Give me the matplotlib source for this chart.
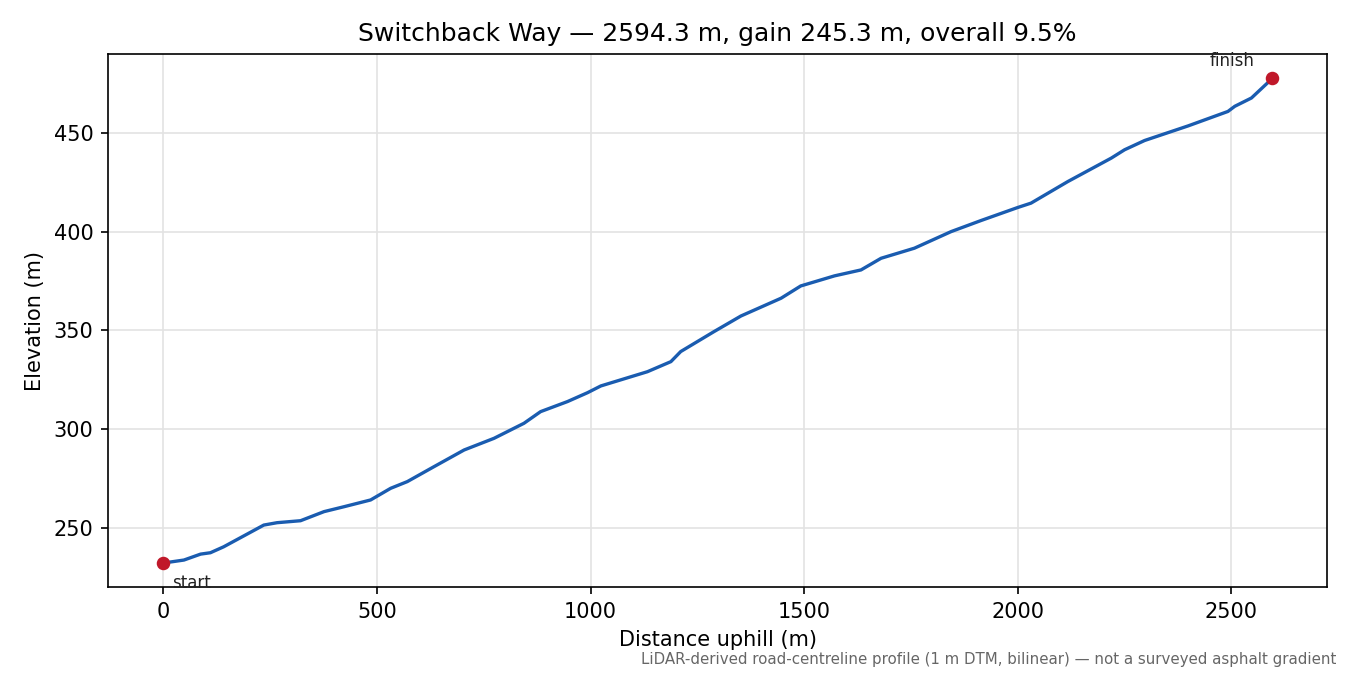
import matplotlib
matplotlib.use("Agg")
import matplotlib.pyplot as plt

# distance along the road (m) and elevation (m)
distance = [0, 48, 87, 110, 141, 188, 235, 266, 321, 376, 423, 485, 532, 571,
            633, 704, 774, 844, 883, 946, 993, 1024, 1133, 1188, 1211, 1289,
            1352, 1446, 1492, 1571, 1633, 1680, 1758, 1844, 1914, 2000, 2031,
            2117, 2219, 2250, 2297, 2399, 2492, 2508, 2547, 2586, 2594.3]
elevation = [232.3, 233.8, 236.8, 237.5, 240.5, 246.0, 251.5, 252.7, 253.7,
             258.3, 260.8, 264.2, 270.1, 273.5, 281.0, 289.5, 295.4, 303.0,
             308.9, 314.0, 318.5, 321.9, 329.1, 334.2, 339.3, 349.4, 357.3,
             366.3, 372.5, 377.6, 380.6, 386.5, 391.6, 400.0, 405.6, 412.2,
             414.4, 425.3, 437.2, 441.4, 446.1, 453.5, 460.8, 463.4, 467.6,
             475.5, 477.6]

road_name = "Switchback Way"
length = distance[-1]
gain = elevation[-1] - elevation[0]
overall = 100 * gain / length

fig, ax = plt.subplots(figsize=(9, 4.5), dpi=150)

ax.plot(distance, elevation, color="#1a5cb0", linewidth=1.6,
        solid_joinstyle="round")
ax.scatter([distance[0], distance[-1]], [elevation[0], elevation[-1]],
           color="#c0182a", s=30, zorder=3)

ax.annotate("start", (distance[0], elevation[0]), xytext=(4, -12),
            textcoords="offset points", fontsize=8, color="#222222")
ax.annotate("finish", (distance[-1], elevation[-1]), xytext=(-8, 6),
            textcoords="offset points", fontsize=8, color="#222222", ha="right")

ax.grid(True, color="#e3e3e3", linewidth=0.8)
ax.set_axisbelow(True)
ax.set_xlabel("Distance uphill (m)")
ax.set_ylabel("Elevation (m)")
ax.set_title(f"{road_name} — {length:.1f} m, gain {gain:.1f} m, overall {overall:.1f}%",
             fontsize=12)

fig.text(0.99, 0.012,
         "LiDAR-derived road-centreline profile (1 m DTM, bilinear) — not a surveyed asphalt gradient",
         ha="right", va="bottom", fontsize=7.2, color="#666666")

fig.subplots_adjust(left=0.08, right=0.983, top=0.92, bottom=0.13)
fig.savefig("out.png")
